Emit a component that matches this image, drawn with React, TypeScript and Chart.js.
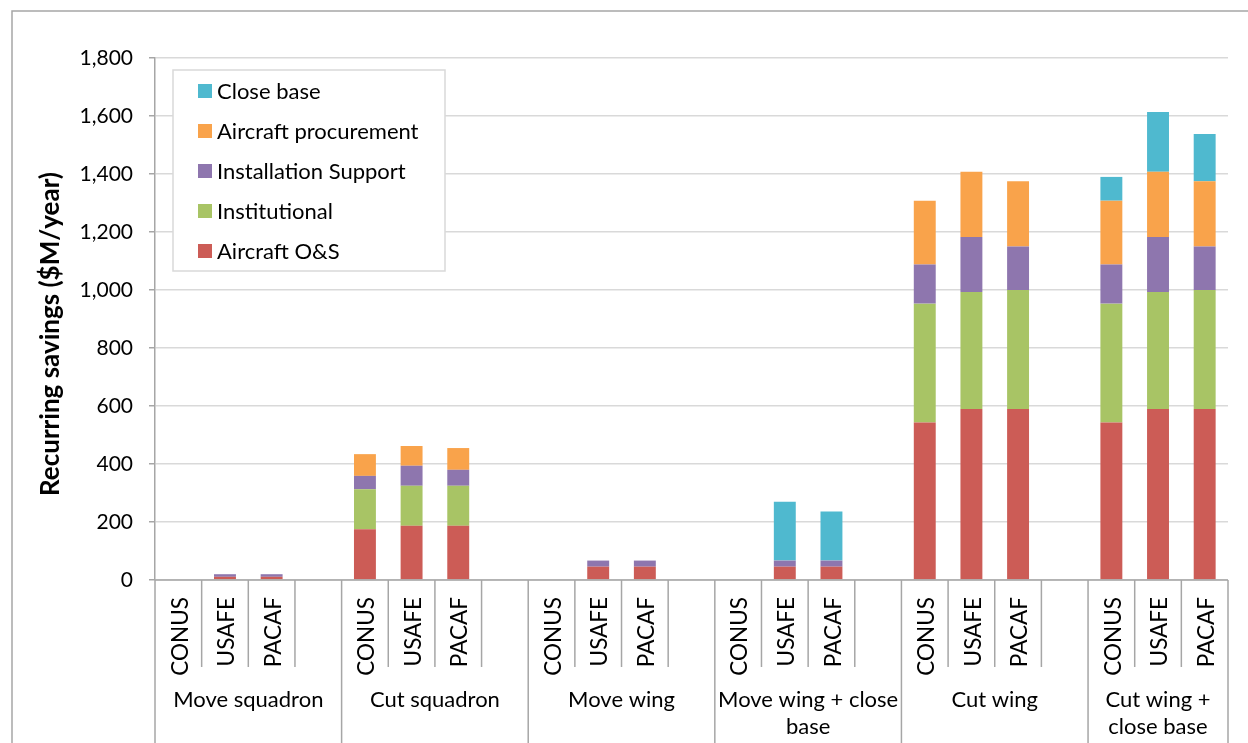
import React, { useEffect, useRef } from "react";
import { Chart, registerables } from "chart.js";

Chart.register(...registerables);

// ---- data ----
const categories = [
  "CONUS", "USAFE", "PACAF", "",
  "CONUS", "USAFE", "PACAF", "",
  "CONUS", "USAFE", "PACAF", "",
  "CONUS", "USAFE", "PACAF", "",
  "CONUS", "USAFE", "PACAF", "",
  "CONUS", "USAFE", "PACAF",
];
const groupNames = [
  "Move squadron",
  "Cut squadron",
  "Move wing",
  "Move wing + close base",
  "Cut wing",
  "Cut wing + close base",
];
const groupLabelLines = [
  ["Move squadron"],
  ["Cut squadron"],
  ["Move wing"],
  ["Move wing + close", "base"],
  ["Cut wing"],
  ["Cut wing +", "close base"],
];
const groupSizes = [4, 4, 4, 4, 4, 3];

const aircraftOS = [0, 11, 11, 0, 175, 187, 187, 0, 0, 46, 46, 0, 0, 46, 46, 0, 543, 590, 590, 0, 543, 590, 590];
const institutional = [0, 0, 0, 0, 138, 138, 138, 0, 0, 0, 0, 0, 0, 0, 0, 0, 410, 403, 410, 0, 410, 403, 410];
const installationSupport = [0, 9, 9, 0, 46, 69, 55, 0, 0, 21, 21, 0, 0, 21, 21, 0, 135, 190, 150, 0, 135, 190, 150];
const aircraftProcurement = [0, 0, 0, 0, 75, 68, 75, 0, 0, 0, 0, 0, 0, 0, 0, 0, 220, 225, 225, 0, 220, 225, 225];
const closeBase = [0, 0, 0, 0, 0, 0, 0, 0, 0, 0, 0, 0, 0, 203, 169, 0, 0, 0, 0, 0, 82, 206, 163];

const yTicks = [0, 200, 400, 600, 800, 1000, 1200, 1400, 1600, 1800];

const FONT = "Lato";
const GRAY = "#a6a6a6";

const nz = (arr: number[]) => arr.map((v) => (v === 0 ? null : v));

const customDraw = {
  id: "customDraw",
  beforeDraw(chart: any) {
    const ctx = chart.ctx;
    ctx.save();
    ctx.fillStyle = "#ffffff";
    ctx.fillRect(0, 0, chart.width, chart.height);
    ctx.restore();
  },
  afterDraw(chart: any) {
    const ctx = chart.ctx;
    const xs = chart.scales.x;
    const ys = chart.scales.y;
    const area = chart.chartArea;
    ctx.save();

    // outer frame
    ctx.strokeStyle = GRAY;
    ctx.lineWidth = 1.5;
    ctx.beginPath();
    ctx.moveTo(12, chart.height + 2);
    ctx.lineTo(12, 11);
    ctx.lineTo(chart.width + 2, 11);
    ctx.stroke();

    // y title
    ctx.save();
    ctx.translate(51, 334);
    ctx.rotate(-Math.PI / 2);
    ctx.font = `bold 26px ${FONT}`;
    ctx.fillStyle = "#000";
    ctx.textAlign = "center";
    ctx.textBaseline = "middle";
    ctx.fillText("Recurring savings ($M/year)", 0, 0);
    ctx.restore();

    // x axis
    const n = categories.length;
    const slot = (xs.getPixelForValue(n - 1) - xs.getPixelForValue(0)) / (n - 1);
    const edge = (i: number) => xs.getPixelForValue(0) - slot / 2 + i * slot;
    const y0 = ys.getPixelForValue(0);
    ctx.strokeStyle = GRAY;
    ctx.lineWidth = 1.5;
    ctx.beginPath();
    ctx.moveTo(area.left, y0);
    ctx.lineTo(edge(n), y0);
    ctx.stroke();

    const groupEdges: number[] = [0];
    groupSizes.forEach((s) => groupEdges.push(groupEdges[groupEdges.length - 1] + s));
    for (let i = 0; i <= n; i++) {
      const x = edge(i);
      const long = groupEdges.includes(i);
      ctx.beginPath();
      ctx.moveTo(x, y0);
      ctx.lineTo(x, long ? chart.height + 2 : 667);
      ctx.stroke();
    }

    // sub labels (vertical)
    ctx.fillStyle = "#000";
    ctx.font = `22.5px ${FONT}`;
    categories.forEach((c, i) => {
      if (!c) return;
      const x = xs.getPixelForValue(i);
      ctx.save();
      ctx.translate(x + 2, 597);
      ctx.rotate(-Math.PI / 2);
      ctx.textAlign = "right";
      ctx.textBaseline = "middle";
      ctx.fillText(c, 0, 0);
      ctx.restore();
    });

    // group labels
    ctx.font = `22px ${FONT}`;
    ctx.textAlign = "center";
    ctx.textBaseline = "alphabetic";
    groupLabelLines.forEach((lines, g) => {
      const cx = (edge(groupEdges[g]) + edge(groupEdges[g + 1])) / 2;
      lines.forEach((ln, k) => {
        ctx.fillText(ln, cx, 706.5 + k * 27);
      });
    });

    // legend
    const lx = 173, ly = 70, lw = 272, lh = 201;
    ctx.fillStyle = "#fff";
    ctx.fillRect(lx, ly, lw, lh);
    ctx.strokeStyle = "#d9d9d9";
    ctx.lineWidth = 1.5;
    ctx.strokeRect(lx, ly, lw, lh);
    const ds = [...chart.data.datasets].reverse();
    ctx.font = `22px ${FONT}`;
    ctx.textAlign = "left";
    ctx.textBaseline = "alphabetic";
    ds.forEach((d: any, i: number) => {
      const cy = 91 + i * 40;
      ctx.fillStyle = d.backgroundColor;
      ctx.fillRect(198, cy - 7, 14, 14);
      ctx.fillStyle = "#000";
      ctx.fillText(d.label, 217, cy + 8);
    });

    ctx.restore();
  },
};

export default function App() {
  const ref = useRef<HTMLCanvasElement | null>(null);

  useEffect(() => {
    document.body.style.margin = "0";
    Chart.defaults.font.family = FONT;
    const chart = new Chart(ref.current as HTMLCanvasElement, {
      type: "bar",
      data: {
        labels: categories,
        datasets: [
          { label: "Aircraft O&S", data: nz(aircraftOS), backgroundColor: "#CC5C56" },
          { label: "Institutional", data: nz(institutional), backgroundColor: "#A8C465" },
          { label: "Installation Support", data: nz(installationSupport), backgroundColor: "#8E76AE" },
          { label: "Aircraft procurement", data: nz(aircraftProcurement), backgroundColor: "#F9A34B" },
          { label: "Close base", data: nz(closeBase), backgroundColor: "#4FB9CF" },
        ] as any,
      },
      options: {
        animation: false,
        responsive: true,
        maintainAspectRatio: false,
        layout: { padding: { left: 0, right: 20, top: 58, bottom: 163 } },
        datasets: { bar: { barPercentage: 0.47, categoryPercentage: 1.0, borderWidth: 0 } } as any,
        plugins: {
          legend: { display: false },
          tooltip: { enabled: false },
          title: { display: false },
        },
        scales: {
          x: {
            display: false,
            stacked: true,
            offset: true,
          },
          y: {
            stacked: true,
            min: 0,
            max: 1800,
            afterFit: (s: any) => {
              s.width = 155;
            },
            afterBuildTicks: (s: any) => {
              s.ticks = yTicks.map((v) => ({ value: v }));
            },
            ticks: {
              padding: 16,
              color: "#000",
              font: { family: FONT, size: 21 },
              callback: (v: any) => Number(v).toLocaleString("en-US"),
            },
            grid: {
              color: "#d9d9d9",
              lineWidth: 1.5,
              tickLength: 6,
              tickColor: GRAY,
            },
            border: { display: true, color: GRAY, width: 1.5 },
          },
        },
      },
      plugins: [customDraw],
    });
    return () => chart.destroy();
  }, []);

  return (
    <div style={{ position: "absolute", left: 0, top: 0, width: 1248, height: 743 }}>
      <canvas ref={ref} />
    </div>
  );
}
